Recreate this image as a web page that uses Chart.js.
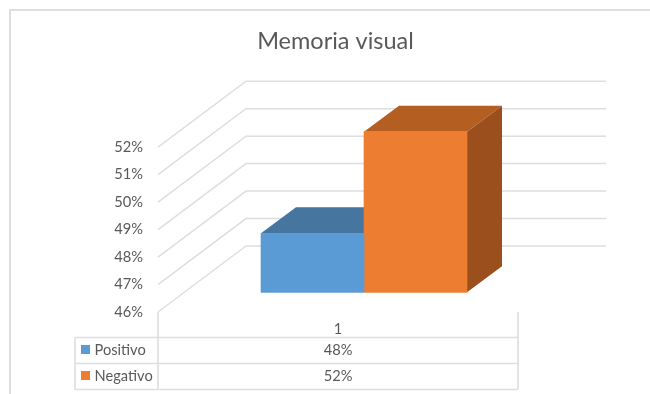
<!DOCTYPE html>
<html>
<head>
<meta charset="utf-8">
<style>
html, body { margin: 0; padding: 0; background: #fff; }
#wrap { width: 650px; height: 394px; }
</style>
<script src="https://cdn.jsdelivr.net/npm/chart.js@4"></script>
</head>
<body>
<div id="wrap"><canvas id="myChart" width="650" height="394"></canvas></div>
<script>
const titleText = 'Memoria visual';
const categories = ['1'];
const seriesNames = ['Positivo', 'Negativo'];
const positivo = [48.15];
const negativo = [51.85];
const tableValues = ['48%', '52%'];
const tickValues = [46, 47, 48, 49, 50, 51, 52];

const seriesColors = ['#5B9BD5', '#ED7D31'];
const topColors = ['#4675A0', '#B55E22'];
const sideColors = ['#3F6A92', '#9A4F1C'];
const gridColor = '#DEDEDE';
const textColor = '#595959';
const fontName = 'Lato, "Open Sans", sans-serif';

// 3d look: wall depth and bar depth in px
const wallDx = 88, wallDy = -66, wallRight = 606;
const barDx = 35, barDy = -26;
// the bars stand further in than the axis front edge
const barShift = 19.7 / 27.5;

function quad(c, pts, color) {
  c.fillStyle = color;
  c.beginPath();
  c.moveTo(pts[0][0], pts[0][1]);
  pts.slice(1).forEach(p => c.lineTo(p[0], p[1]));
  c.closePath();
  c.fill();
}

const wallsAndDepth = {
  id: 'wallsAndDepth',
  beforeDatasetsDraw(chart) {
    const c = chart.ctx, y = chart.scales.y, left = chart.chartArea.left;
    c.save();
    c.strokeStyle = gridColor;
    c.lineWidth = 1.5;
    tickValues.forEach(v => {
      const py = y.getPixelForValue(v);
      c.beginPath();
      c.moveTo(left, py);
      c.lineTo(left + wallDx, py + wallDy);
      c.lineTo(wallRight, py + wallDy);
      c.stroke();
    });
    chart.data.datasets.forEach((ds, i) => {
      const b = chart.getDatasetMeta(i).data[0];
      const l = b.x - b.width / 2, r = b.x + b.width / 2;
      quad(c, [[l, b.y], [r, b.y], [r + barDx, b.y + barDy], [l + barDx, b.y + barDy]], topColors[i]);
      quad(c, [[r, b.y], [r + barDx, b.y + barDy], [r + barDx, b.base + barDy], [r, b.base]], sideColors[i]);
    });
    c.restore();
  }
};

const dataTable = {
  id: 'dataTable',
  afterDraw(chart) {
    const c = chart.ctx, a = chart.chartArea;
    const rows = [337.5, 363.5, 389.5];
    const tableLeft = 75;
    c.save();
    // frame of the pasted picture
    c.strokeStyle = '#DEDEDE';
    c.lineWidth = 2;
    c.beginPath();
    c.moveTo(10, 394);
    c.lineTo(10, 10);
    c.lineTo(650, 10);
    c.stroke();
    c.lineWidth = 1.6;
    c.beginPath();
    rows.forEach(r => { c.moveTo(tableLeft, r); c.lineTo(a.right, r); });
    c.moveTo(tableLeft, rows[0]); c.lineTo(tableLeft, rows[2]);
    c.moveTo(a.left, a.bottom); c.lineTo(a.left, rows[2]);
    c.moveTo(a.right, a.bottom); c.lineTo(a.right, rows[2]);
    c.stroke();
    c.font = '14.67px ' + fontName;
    c.textBaseline = 'middle';
    seriesNames.forEach((name, i) => {
      const mid = (rows[i] + rows[i + 1]) / 2;
      c.fillStyle = seriesColors[i];
      c.fillRect(81, mid - 5.5, 9, 9);
      c.fillStyle = textColor;
      c.textAlign = 'left';
      c.fillText(name, 94.5, mid);
      c.textAlign = 'center';
      c.fillText(tableValues[i], (a.left + a.right) / 2, mid);
    });
    c.restore();
  }
};

new Chart(document.getElementById('myChart'), {
  type: 'bar',
  data: {
    labels: categories,
    datasets: [
      { label: seriesNames[0], data: [{ x: 1, y: positivo[0] }], backgroundColor: seriesColors[0], xAxisID: 'xBars', yAxisID: 'yBars', base: 46, barThickness: 103, clip: false },
      { label: seriesNames[1], data: [{ x: 1, y: negativo[0] }], backgroundColor: seriesColors[1], xAxisID: 'xBars', yAxisID: 'yBars', base: 46, barThickness: 103, clip: false }
    ]
  },
  options: {
    responsive: false,
    animation: false,
    layout: { padding: { left: 21, right: 0, top: 0, bottom: 0 } },
    plugins: {
      legend: { display: false },
      tooltip: { enabled: false },
      title: {
        display: true,
        text: titleText,
        color: textColor,
        font: { family: fontName, size: 23.5, weight: 'normal' },
        padding: { top: 27, bottom: 92 }
      }
    },
    scales: {
      x: {
        type: 'category',
        position: 'bottom',
        grid: { display: false },
        border: { display: false },
        ticks: { color: textColor, font: { family: fontName, size: 14.67 }, padding: 0 },
        afterFit: s => { s.height = 82; }
      },
      // hidden, only moves the bars away from the front edge of the walls
      xBars: { type: 'linear', display: false, offset: false, min: -205, max: 155 },
      y: {
        min: 46,
        max: 52,
        grid: { display: false },
        border: { display: false },
        ticks: {
          stepSize: 1,
          color: textColor,
          font: { family: fontName, size: 14.67 },
          padding: 7,
          callback: v => v + '%'
        },
        afterFit: s => { s.width = 137; }
      },
      // also keeps the space right of the front wall free
      yBars: {
        position: 'right',
        min: 46 - barShift,
        max: 52 - barShift,
        grid: { display: false },
        border: { display: false },
        ticks: { display: false },
        afterFit: s => { s.width = 132; }
      }
    }
  },
  plugins: [wallsAndDepth, dataTable]
});
</script>
</body>
</html>
